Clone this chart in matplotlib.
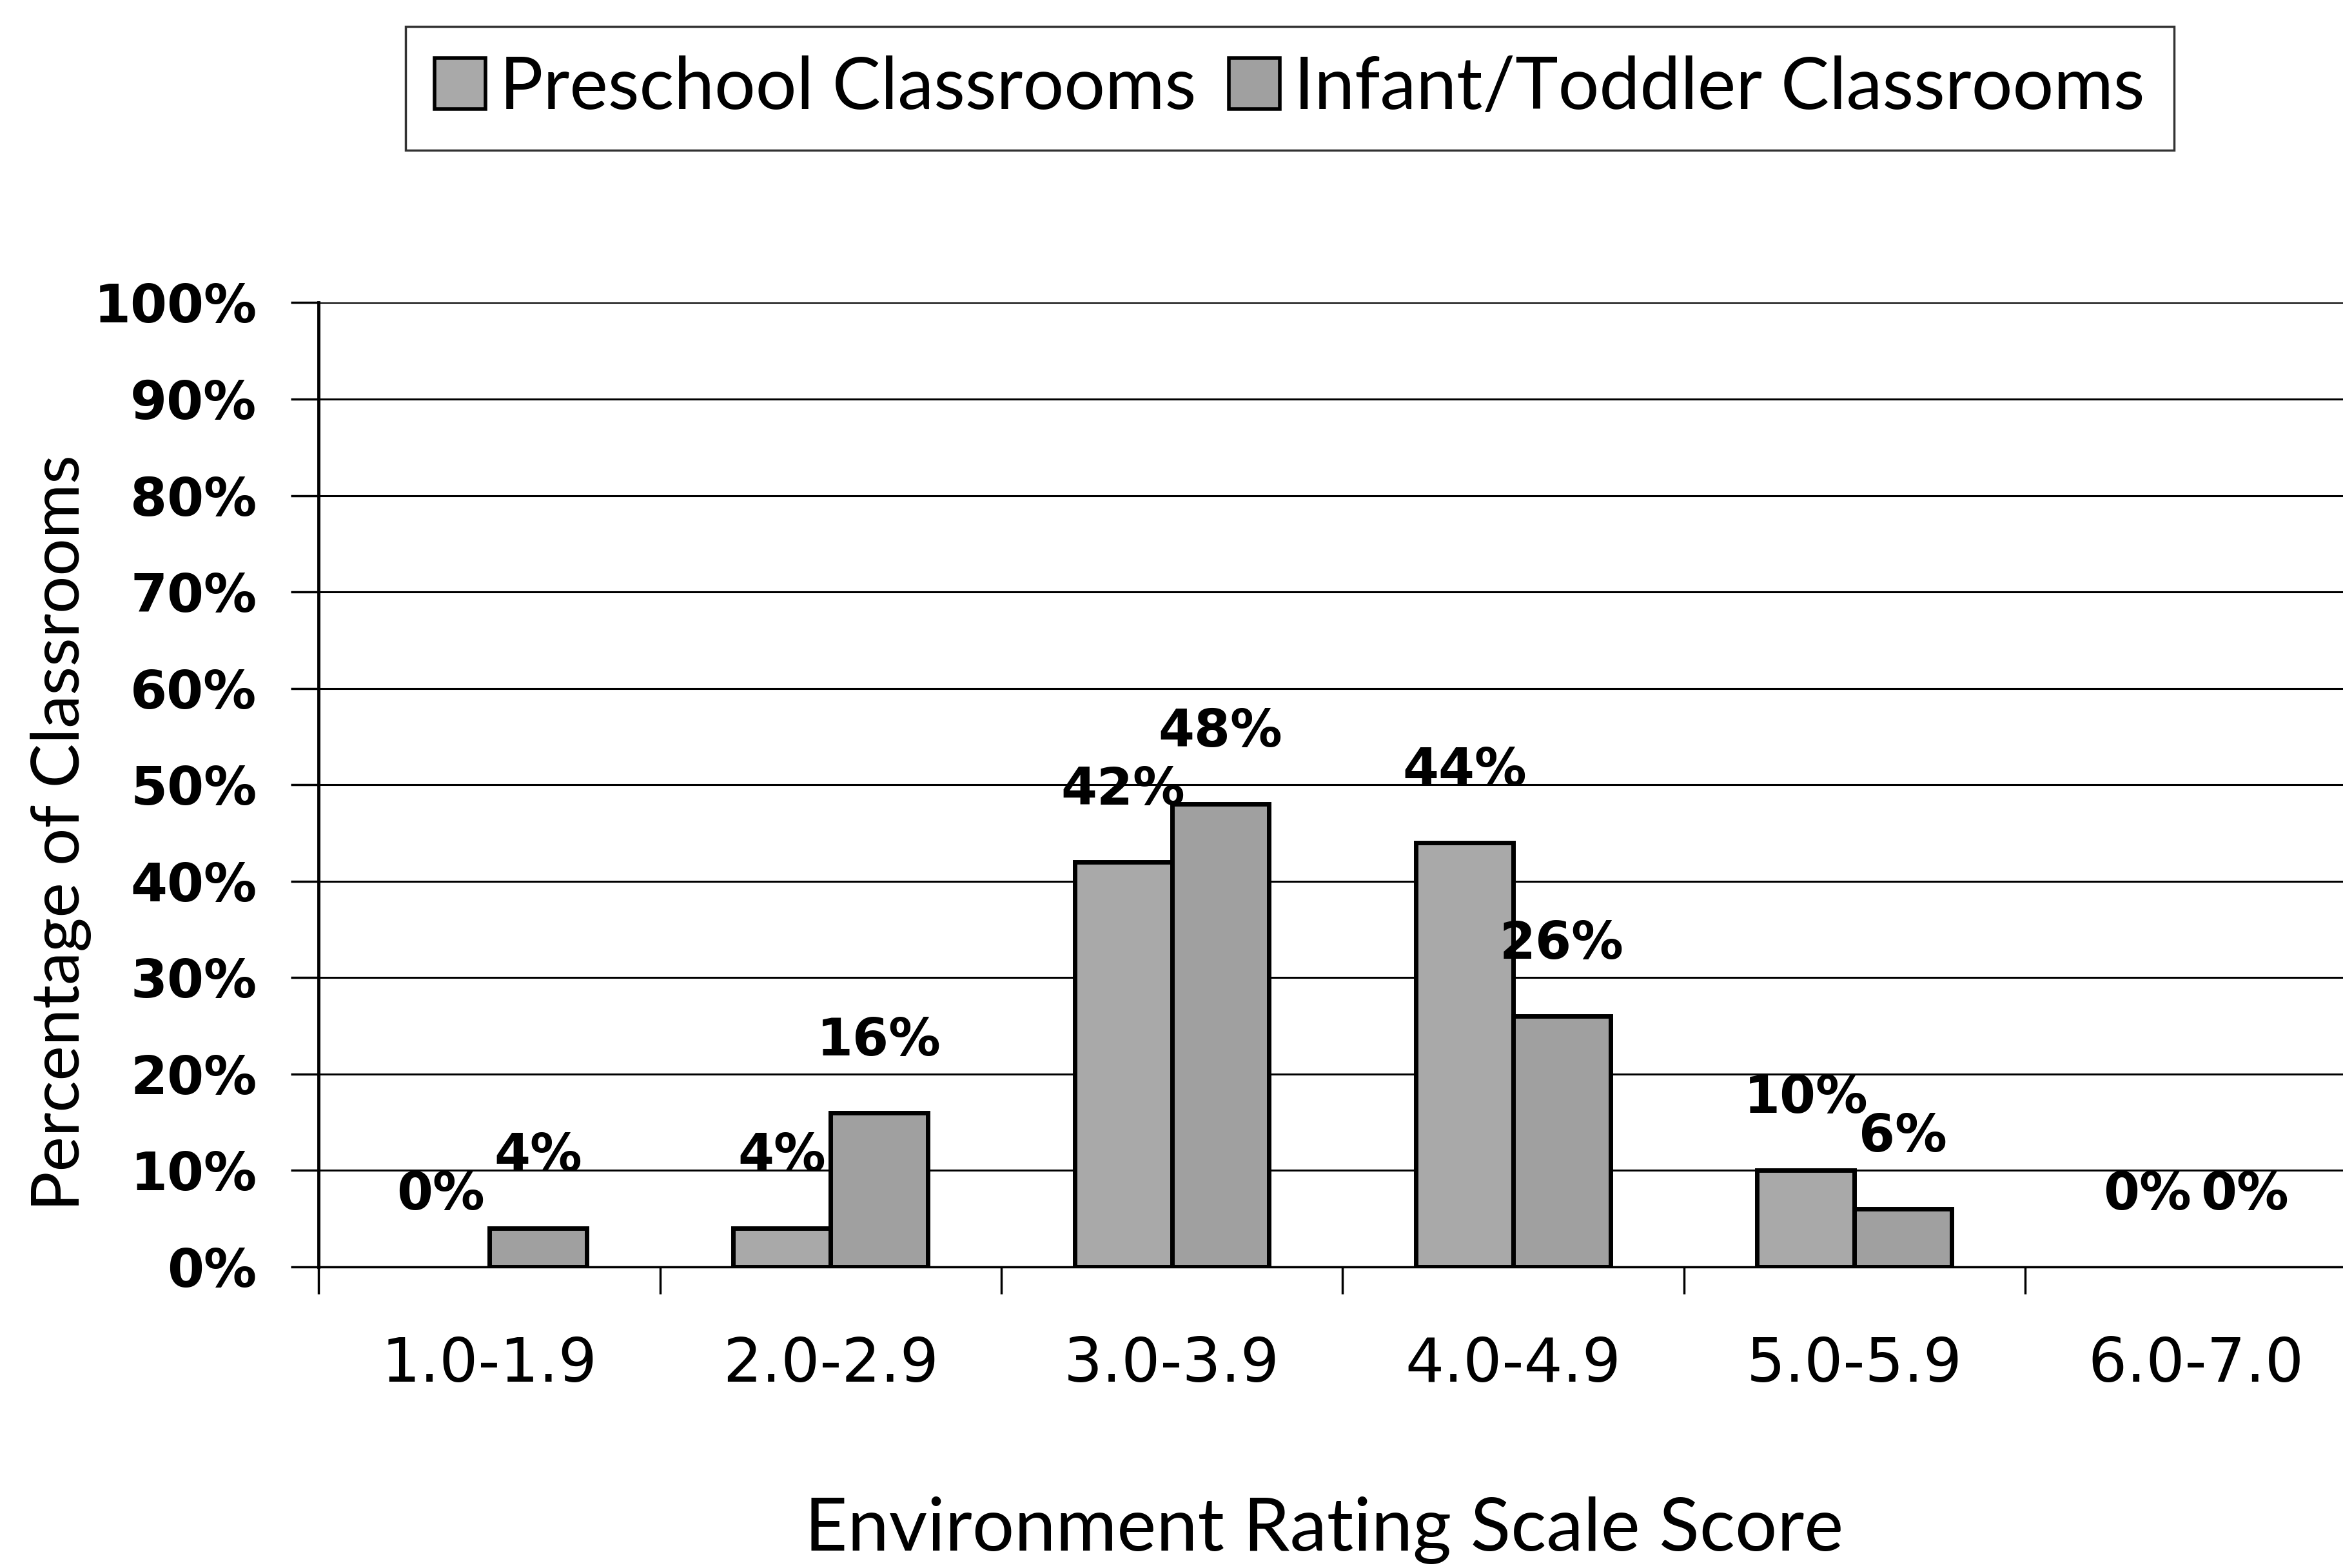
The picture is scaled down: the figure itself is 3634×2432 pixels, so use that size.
import numpy as np
import matplotlib
matplotlib.use("Agg")
import matplotlib.pyplot as plt
from matplotlib.patches import Patch

# data
categories = ["1.0-1.9", "2.0-2.9", "3.0-3.9", "4.0-4.9", "5.0-5.9", "6.0-7.0"]
preschool = [0, 4, 42, 44, 10, 0]
infant_toddler = [4, 16, 48, 26, 6, 0]
y_ticks = [0, 10, 20, 30, 40, 50, 60, 70, 80, 90, 100]

pre_color = "#a9a9a9"
inf_color = "#a0a0a0"

fig = plt.figure(figsize=(36.34, 24.32), dpi=100)
ax = fig.add_axes([0.136, 0.192, 0.874, 0.615])

x = np.arange(len(categories))
w = 0.285

b1 = ax.bar(x - w / 2, preschool, w, color=pre_color, edgecolor="black",
            linewidth=5, zorder=3)
b2 = ax.bar(x + w / 2, infant_toddler, w, color=inf_color, edgecolor="black",
            linewidth=5, zorder=3)
# empty bars show no outline in the original
for b in list(b1) + list(b2):
    if b.get_height() == 0:
        b.set_visible(False)

# value labels above each bar
for xs, vals in [(x - w / 2, preschool), (x + w / 2, infant_toddler)]:
    for xi, v in zip(xs, vals):
        ax.annotate(f"{v}%", (xi, v), xytext=(0, 80), textcoords="offset points",
                    ha="center", va="center", fontsize=58, fontweight="bold",
                    family="DejaVu Sans", zorder=4)

ax.set_xlim(-0.5, len(categories) - 0.5)
ax.set_ylim(0, 100)

# y axis
ax.set_yticks(y_ticks)
ax.set_yticklabels([f"{t}%" for t in y_ticks], fontsize=59, fontweight="bold",
                   family="DejaVu Sans")
ax.tick_params(axis="y", length=31, width=2.5, pad=38, direction="out")
ax.yaxis.grid(True, color="black", linewidth=2.2, zorder=0)

# x axis: ticks at category borders, labels at centres
ax.set_xticks(np.arange(-0.5, len(categories), 1.0))
ax.set_xticklabels([])
ax.set_xticks(x, minor=True)
ax.set_xticklabels(categories, minor=True, fontsize=68, family="DejaVu Sans")
ax.tick_params(axis="x", which="major", length=30, width=2.5, direction="out")
ax.tick_params(axis="x", which="minor", length=0, pad=76)

for s in ["top", "right"]:
    ax.spines[s].set_visible(False)
ax.spines["left"].set_linewidth(3.5)
ax.spines["bottom"].set_linewidth(2.5)

fig.text(0.026, 0.469, "Percentage of Classrooms", rotation=90, ha="center",
         va="center", fontsize=74, family="Lato")
fig.text(0.565, 0.024, "Environment Rating Scale Score", ha="center",
         va="center", fontsize=83, family="Lato")

handles = [Patch(facecolor=pre_color, edgecolor="black", linewidth=4,
                 label="Preschool Classrooms"),
           Patch(facecolor=inf_color, edgecolor="black", linewidth=4,
                 label="Infant/Toddler Classrooms")]
leg = fig.legend(handles=handles, loc="center", bbox_to_anchor=(0.5505, 0.9437),
                 ncol=2, fancybox=False, frameon=True, edgecolor="black",
                 prop={"family": "Lato", "size": 81}, handlelength=0.7,
                 handleheight=0.7, handletextpad=0.2, columnspacing=0.45,
                 borderpad=0.4, borderaxespad=0)
leg.get_frame().set_linewidth(2.5)

fig.savefig("out.png", dpi=100, facecolor="white")
